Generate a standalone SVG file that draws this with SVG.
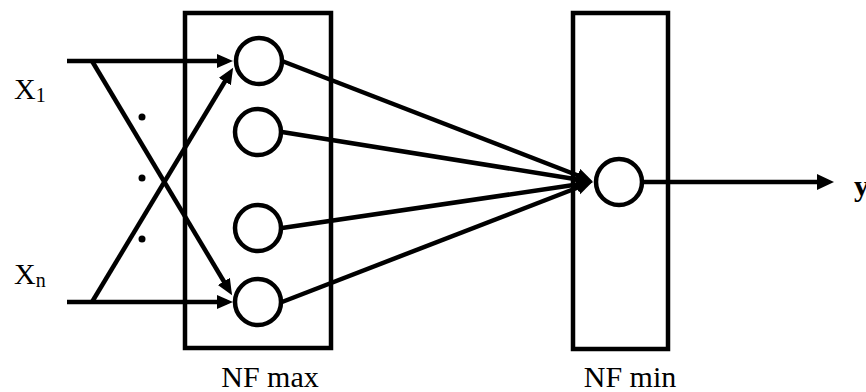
<svg xmlns="http://www.w3.org/2000/svg" width="866" height="392" viewBox="0 0 866 392">
  <style>
    .box { fill: none; stroke: #000; stroke-width: 4.5; }
    .neuron { fill: #fff; stroke: #000; stroke-width: 4.5; }
    .wire { fill: none; stroke: #000; stroke-width: 4.5; }
    .lbl { font-family: "Liberation Serif", "Times New Roman", serif; fill: #000; }
  </style>
  <defs>
    <marker id="head" markerUnits="userSpaceOnUse" markerWidth="17" markerHeight="15" refX="10" refY="7" orient="auto">
      <path d="M0,0 L16,7 L0,14 Z" fill="#000"/>
    </marker>
    <marker id="headOut" markerUnits="userSpaceOnUse" markerWidth="18" markerHeight="17" refX="10" refY="8" orient="auto">
      <path d="M0,0 L17,8 L0,16 Z" fill="#000"/>
    </marker>
  </defs>

  <!-- input labels -->
  <g id="input-x1">
    <text class="lbl" font-family="Liberation Serif, serif" x="14" y="99" font-size="30">X<tspan font-size="20" dy="3">1</tspan></text>
  </g>
  <g id="input-xn">
    <text class="lbl" font-family="Liberation Serif, serif" x="14" y="284" font-size="30">X<tspan font-size="20" dy="3">n</tspan></text>
  </g>

  <!-- NF max layer -->
  <g id="nf-max">
    <rect class="box" x="185" y="13" width="146" height="335"/>
    <text class="lbl" font-family="Liberation Serif, serif" x="270" y="387" font-size="30" text-anchor="middle">NF max</text>
  </g>

  <!-- NF min layer -->
  <g id="nf-min">
    <rect class="box" x="573" y="13" width="95" height="336"/>
    <text class="lbl" font-family="Liberation Serif, serif" x="630" y="387" font-size="30" text-anchor="middle">NF min</text>
  </g>

  <!-- connectors -->
  <g id="connectors">
    <!-- inputs -->
    <line class="wire" x1="67" y1="61" x2="227" y2="61" marker-end="url(#head)"/>
    <line class="wire" x1="67" y1="302" x2="227" y2="302" marker-end="url(#head)"/>
    <line class="wire" x1="92" y1="61" x2="229" y2="290" marker-end="url(#head)"/>
    <line class="wire" x1="92" y1="302" x2="230" y2="73" marker-end="url(#head)"/>
    <!-- max neurons to min neuron -->
    <line class="wire" x1="282" y1="61" x2="587" y2="179" marker-end="url(#head)"/>
    <line class="wire" x1="282" y1="132" x2="587" y2="181" marker-end="url(#head)"/>
    <line class="wire" x1="282" y1="228" x2="587" y2="183" marker-end="url(#head)"/>
    <line class="wire" x1="282" y1="302" x2="587" y2="184" marker-end="url(#head)"/>
    <!-- output -->
    <line class="wire" x1="642" y1="182" x2="827" y2="182" marker-end="url(#headOut)"/>
  </g>

  <!-- ellipsis dots between inputs -->
  <g id="ellipsis">
    <circle cx="142" cy="117" r="3.5" fill="#000"/>
    <circle cx="142" cy="178" r="3.5" fill="#000"/>
    <circle cx="142" cy="239" r="3.5" fill="#000"/>
  </g>

  <!-- max neurons -->
  <g id="max-1"><circle class="neuron" cx="259" cy="61" r="23"/></g>
  <g id="max-2"><circle class="neuron" cx="258" cy="132" r="23"/></g>
  <g id="max-3"><circle class="neuron" cx="258" cy="228" r="23"/></g>
  <g id="max-4"><circle class="neuron" cx="258" cy="302" r="23"/></g>

  <!-- min neuron -->
  <g id="min-1"><circle class="neuron" cx="619" cy="182" r="23"/></g>

  <!-- output label -->
  <g id="output-y">
    <text class="lbl" font-family="Liberation Serif, serif" x="854" y="196" font-size="30" font-weight="bold">y</text>
  </g>
</svg>
